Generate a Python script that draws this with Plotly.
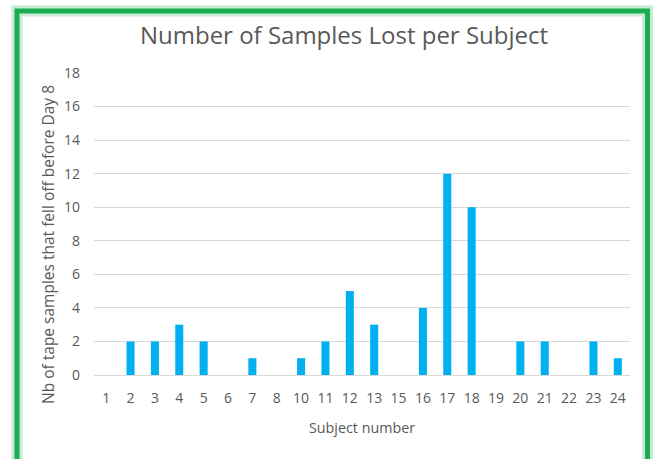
import plotly.graph_objects as go

subjects = ["1", "2", "3", "4", "5", "6", "7", "8", "10", "11", "12", "13",
            "15", "16", "17", "18", "19", "20", "21", "22", "23", "24"]
samples_lost = [0, 2, 2, 3, 2, 0, 1, 0, 1, 2, 5, 3, 0, 4, 12, 10, 0, 2, 2, 0, 2, 1]
y_ticks = [0, 2, 4, 6, 8, 10, 12, 14, 16, 18]

W, H = 655, 459
L, R, T, B = 94, 25, 73, 84
pw, ph = W - L - R, H - T - B

def px(x):
    return (x - L) / pw

def py(y):
    return (H - B - y) / ph

fig = go.Figure()
fig.add_trace(go.Bar(x=subjects, y=samples_lost, marker=dict(color="#00b0f0", line=dict(width=0)),
                     width=0.33))

font_family = "Open Sans, Lato, sans-serif"
grey = "#595959"

fig.update_layout(
    width=W, height=H,
    margin=dict(l=L, r=R, t=T, b=B),
    paper_bgcolor="white", plot_bgcolor="white",
    showlegend=False,
    title=dict(text="Number of Samples Lost per Subject", xref="container", x=344 / W,
               xanchor="center", yref="container", y=1 - 36 / H, yanchor="middle",
               font=dict(family=font_family, size=24, color=grey)),
    xaxis=dict(type="category", tickfont=dict(family=font_family, size=14, color=grey),
               showgrid=False, showline=False, ticks="", ticklabelstandoff=13),
    yaxis=dict(range=[0, 18], tickvals=y_ticks, showgrid=True, gridcolor="#d9d9d9", gridwidth=1,
               zeroline=True, zerolinecolor="#d9d9d9", zerolinewidth=1,
               tickfont=dict(family=font_family, size=14, color=grey), ticks="",
               ticklabelstandoff=13),
    annotations=[
        dict(text="Subject number", xref="paper", yref="paper", x=px(362), y=py(427),
             xanchor="center", yanchor="middle", showarrow=False,
             font=dict(family=font_family, size=14.3, color=grey)),
        dict(text="Nb of tape samples that fell off before Day 8", xref="paper", yref="paper",
             x=px(48), y=py(245), xanchor="center", yanchor="middle", textangle=-90,
             showarrow=False, font=dict(family=font_family, size=15.5, color=grey)),
    ],
    shapes=[
        dict(type="rect", xref="paper", yref="paper", x0=px(17), x1=px(647.5), y0=py(466), y1=py(11),
             line=dict(color="rgba(26,173,79,0.25)", width=11), layer="below"),
        dict(type="rect", xref="paper", yref="paper", x0=px(17), x1=px(647.5), y0=py(466), y1=py(11),
             line=dict(color="#1aad4f", width=5), layer="above"),
    ],
)

fig.write_html("out.html", config={"displayModeBar": False},
               post_script="document.body.style.margin='0';")
